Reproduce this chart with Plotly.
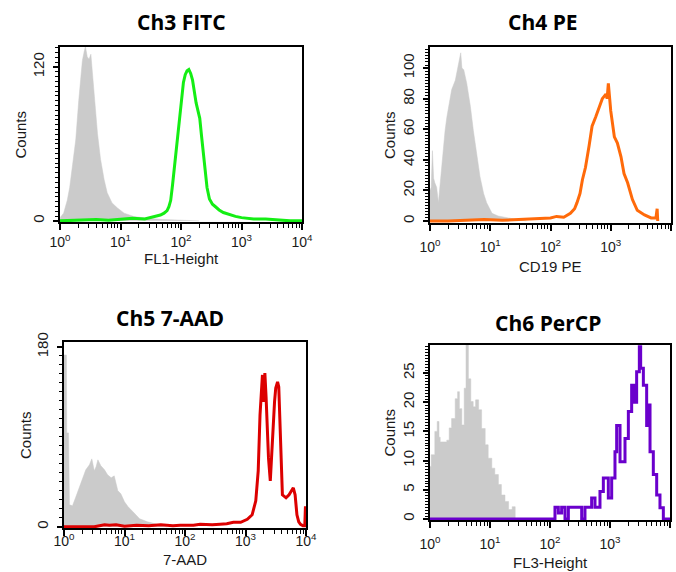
import plotly.graph_objects as go

W, H = 676, 572

# ---------------- data (x as log10 of channel value, y as counts) ----------------
# Ch3 FITC
fitc_ctrl_log = [0.0, 0.01, 0.06, 0.12, 0.16, 0.20, 0.26, 0.31, 0.34, 0.37, 0.40, 0.42, 0.45, 0.48,
                 0.51, 0.53, 0.56, 0.59, 0.62, 0.67, 0.73, 0.78, 0.86, 0.95, 1.06, 1.22, 1.44, 1.70, 2.00, 2.30]
fitc_ctrl_counts = [1, 3, 6, 16, 26, 40, 63, 94, 110, 125, 132, 136, 128, 126,
                    130, 118, 102, 85, 68, 48, 32, 22, 14, 10, 6, 3.4, 2, 1, 0.5, 0]
fitc_log = [0.0, 0.3, 0.6, 0.8, 1.0, 1.2, 1.4, 1.55, 1.66, 1.72, 1.77, 1.80, 1.83, 1.86, 1.89, 1.92,
            1.95, 1.98, 2.01, 2.04, 2.07, 2.10, 2.13, 2.16, 2.19, 2.22, 2.25, 2.28, 2.31, 2.34, 2.37,
            2.40, 2.43, 2.47, 2.52, 2.57, 2.63, 2.70, 2.79, 2.90, 3.0, 3.2, 3.4, 3.6, 3.8, 4.0]
fitc_counts = [0, 0.5, 1, 0.5, 1, 2, 1.5, 3, 4.5, 6, 8, 11, 16, 28, 42, 57,
               68, 82, 95, 108, 114, 117, 118, 115, 110, 100, 92, 86, 80, 66, 52,
               38, 26, 17, 13, 11, 8.5, 6.5, 5, 3.5, 2.5, 1.5, 1.5, 0.5, 0, 0]

# Ch4 PE
pe_ctrl_log = [0.0, 0.02, 0.04, 0.06, 0.08, 0.11, 0.14, 0.17, 0.19, 0.22, 0.25, 0.28, 0.31, 0.36,
               0.42, 0.47, 0.51, 0.53, 0.56, 0.61, 0.67, 0.72, 0.78, 0.83, 0.89, 0.94, 1.03, 1.13,
               1.30, 1.47, 1.60]
pe_ctrl_counts = [20, 22, 46, 28, 25, 22, 12, 25, 35, 47, 59, 68, 75, 86,
                  92, 101, 110, 100, 99, 90, 75, 59, 44, 29, 18, 12, 5, 3.3,
                  2, 1, 0]
pe_log = [0.0, 0.3, 0.6, 0.9, 1.2, 1.5, 1.74, 1.9, 2.0, 2.1, 2.22, 2.33, 2.40, 2.44, 2.49, 2.53,
          2.58, 2.64, 2.69, 2.75, 2.81, 2.86, 2.92, 2.94, 2.96, 2.98, 3.0, 3.06, 3.11, 3.17, 3.22,
          3.28, 3.36, 3.44, 3.56, 3.67, 3.75, 3.77, 3.78]
pe_counts = [0, 0, 0.5, 1, 0.5, 1, 1.5, 2, 2, 3, 2.5, 5, 8, 12, 18, 27,
             35, 49, 62, 68, 75, 80, 83, 80, 90, 78, 72, 55, 51, 42, 31,
             25, 14, 7, 4, 2, 2, 8, 0]

# Ch5 7-AAD
aad_ctrl_log = [0.0, 0.04, 0.045, 0.075, 0.09, 0.14, 0.19, 0.25, 0.31, 0.36, 0.42, 0.46, 0.50, 0.53,
                0.56, 0.61, 0.67, 0.72, 0.78, 0.83, 0.89, 0.94, 1.0, 1.06, 1.14, 1.25, 1.38, 1.50,
                1.60, 1.70]
aad_ctrl_counts = [172, 172, 94, 94, 22, 21, 29, 39, 49, 57, 62, 68, 56, 60,
                   67, 61, 57, 52, 49, 51, 36, 33, 25, 20, 15, 8, 5, 3,
                   1, 0]
aad_log = [0.0, 0.5, 0.67, 0.75, 0.86, 1.0, 1.2, 1.4, 1.6, 1.8, 1.92, 2.14, 2.25, 2.45, 2.58, 2.69,
           2.8, 2.92, 3.03, 3.11, 3.17, 3.21, 3.24, 3.26, 3.28, 3.30, 3.32, 3.34, 3.36, 3.38, 3.41,
           3.43, 3.46, 3.48, 3.50, 3.53, 3.55, 3.57, 3.59, 3.61, 3.67, 3.72, 3.76, 3.79, 3.82, 3.85,
           3.88, 3.91, 3.95, 3.98, 3.99, 4.0]
aad_counts = [0, 0, 2, 1.5, 2, 0.5, 1.5, 1, 2, 1, 1.5, 1.5, 2.5, 2, 2.5, 3,
              4.5, 4.5, 7.5, 12, 26, 56, 112, 140, 152, 125, 154, 130, 95, 69, 46,
              69, 112, 125, 139, 145, 140, 109, 59, 32, 29, 32, 36, 39, 32, 12,
              5, 2.5, 1, 1, 19, 19]

# Ch6 PerCP
percp_ctrl_log = [0.0, 0.02, 0.04, 0.08, 0.12, 0.15, 0.17, 0.22, 0.28, 0.32, 0.36, 0.42, 0.46, 0.49,
                  0.53, 0.57, 0.60, 0.62, 0.64, 0.68, 0.72, 0.76, 0.81, 0.86, 0.92, 0.97, 1.03, 1.08,
                  1.14, 1.19, 1.25, 1.31, 1.34, 1.37, 1.40, 1.42]
percp_ctrl_counts = [9, 11, 11, 15, 16.7, 14, 13.2, 13.2, 13.5, 15.6, 17.2, 20.6, 21.8, 18.9,
                     16.1, 22.4, 29.8, 29.8, 24, 20.1, 19.2, 20.4, 18.7, 15.5, 12.7, 10.4, 8.7, 7.6,
                     5.9, 4.1, 3, 1.6, 1.6, 2.1, 2.1, 0]
percp_log = [0.0, 2.083, 2.139, 2.194, 2.25, 2.306, 2.528, 2.583, 2.694, 2.75, 2.833, 2.889, 2.972,
             3.028, 3.083, 3.111, 3.167, 3.25, 3.306, 3.361, 3.4, 3.444, 3.489, 3.511, 3.556, 3.611,
             3.644, 3.667, 3.722, 3.778, 3.833, 3.889, 4.0]
percp_counts = [0, 2, 1, 2, 0, 2, 0, 2, 3.6, 2, 4.7, 7, 3.6,
                7, 11.5, 16, 9.8, 13.8, 18.4, 22.9, 20, 25.2, 29.5, 25.8, 22.9, 16,
                19.5, 11.5, 7.6, 4.1, 1.9, 0, 0]

titles = ["Ch3 FITC", "Ch4 PE", "Ch5 7-AAD", "Ch6 PerCP"]
x_labels = ["FL1-Height", "CD19 PE", "7-AAD", "FL3-Height"]
y_label = "Counts"
x_tick_vals = [1, 10, 100, 1000, 10000]
x_tick_text = ["10<sup>0</sup>", "10<sup>1</sup>", "10<sup>2</sup>", "10<sup>3</sup>", "10<sup>4</sup>"]

# ---------------- layout / style ----------------
GRAY = "#cbcbcb"
panels = [
    dict(ctrl=(fitc_ctrl_log, fitc_ctrl_counts), stain=(fitc_log, fitc_counts), color="#14ee14",
         shape="linear", yrange=[-0.9, 135.6], yticks=[0, 120], yminor=3.75, xstand=0,
         box=(60, 302, 47, 222), title_xy=(181, 22), xlab_y=258, ylab_x=20),
    dict(ctrl=(pe_ctrl_log, pe_ctrl_counts), stain=(pe_log, pe_counts), color="#ff6a0a",
         shape="linear", yrange=[-1.3, 113.8], yticks=[0, 20, 40, 60, 80, 100], yminor=2, xstand=4,
         box=(430, 671, 47, 223), title_xy=(543, 22), xlab_y=266, ylab_x=389),
    dict(ctrl=(aad_ctrl_log, aad_ctrl_counts), stain=(aad_log, aad_counts), color="#dc0000",
         shape="linear", yrange=[-1.2, 185], yticks=[0, 180], yminor=9, xstand=-7,
         box=(64, 306, 342, 528), title_xy=(170, 318), xlab_y=559, ylab_x=25),
    dict(ctrl=(percp_ctrl_log, percp_ctrl_counts), stain=(percp_log, percp_counts), color="#6a00cc",
         shape="hv", yrange=[-0.18, 29.8], yticks=[0, 5, 10, 15, 20, 25], yminor=0.5, xstand=4,
         box=(430, 670, 345, 520), title_xy=(548, 323), xlab_y=562, ylab_x=389),
]

minor_x = [m * 10 ** k for k in range(4) for m in range(2, 10)]
xtick_font = dict(family="Liberation Sans, Arial, sans-serif", size=14, color="#1a1a1a")
ytick_font = dict(family="Liberation Sans, Arial, sans-serif", size=15, color="#1a1a1a")
lab_font = dict(family="Liberation Sans, Arial, sans-serif", size=15, color="#1a1a1a")
title_font = dict(family="Open Sans, sans-serif", size=21, color="#000000", weight="bold")

fig = go.Figure()
layout = dict(width=W, height=H, margin=dict(l=0, r=0, t=0, b=0, autoexpand=False),
              paper_bgcolor="white", plot_bgcolor="white", showlegend=False)
annotations = []

for i, p in enumerate(panels):
    n = "" if i == 0 else str(i + 1)
    xa, ya = "x" + n, "y" + n
    x0, x1, y0, y1 = p["box"]
    cl, cc = p["ctrl"]
    sl, sc = p["stain"]
    fig.add_trace(go.Scatter(x=[10 ** v for v in cl], y=cc, mode="lines", fill="tozeroy",
                             fillcolor=GRAY, line=dict(color=GRAY, width=0.5, shape=p["shape"]),
                             xaxis=xa, yaxis=ya, hoverinfo="skip"))
    fig.add_trace(go.Scatter(x=[10 ** v for v in sl], y=sc, mode="lines",
                             line=dict(color=p["color"], width=3, shape=p["shape"]),
                             xaxis=xa, yaxis=ya))
    layout["xaxis" + n] = dict(
        domain=[x0 / W, x1 / W], anchor=ya, type="log", range=[0, 4], automargin=False,
        tickvals=x_tick_vals, ticktext=x_tick_text, tickfont=xtick_font,
        ticks="outside", ticklen=6, tickwidth=1.5, tickcolor="black",
        ticklabelstandoff=p["xstand"],
        showline=True, linecolor="black", linewidth=1.5, mirror=True,
        showgrid=False, zeroline=False,
        minor=dict(tickvals=minor_x, ticks="outside", ticklen=4, tickwidth=1, tickcolor="black",
                   showgrid=False))
    layout["yaxis" + n] = dict(
        domain=[1 - y1 / H, 1 - y0 / H], anchor=xa, range=p["yrange"], automargin=False,
        tickvals=p["yticks"], tickfont=ytick_font, tickangle=-90,
        ticks="outside", ticklen=5, tickwidth=1.5, tickcolor="black", ticklabelstandoff=3,
        showline=True, linecolor="black", linewidth=1.5, mirror=True,
        showgrid=False, zeroline=False,
        minor=dict(dtick=p["yminor"], ticks="outside", ticklen=3, tickwidth=1, tickcolor="black",
                   showgrid=False))
    tx, ty = p["title_xy"]
    annotations.append(dict(text=titles[i], x=tx / W, y=1 - ty / H, xref="paper", yref="paper",
                            xanchor="center", yanchor="middle", showarrow=False, font=title_font))
    annotations.append(dict(text=x_labels[i], x=((x0 + x1) / 2) / W, y=1 - p["xlab_y"] / H,
                            xref="paper", yref="paper", xanchor="center", yanchor="middle",
                            showarrow=False, font=lab_font))
    annotations.append(dict(text=y_label, x=p["ylab_x"] / W, y=1 - ((y0 + y1) / 2) / H,
                            xref="paper", yref="paper", xanchor="center", yanchor="middle",
                            textangle=-90, showarrow=False, font=lab_font))

layout["annotations"] = annotations
fig.update_layout(**layout)
fig.write_html("out.html", config={"displayModeBar": False},
               post_script="document.body.style.margin='0';document.body.style.overflow='hidden';")
